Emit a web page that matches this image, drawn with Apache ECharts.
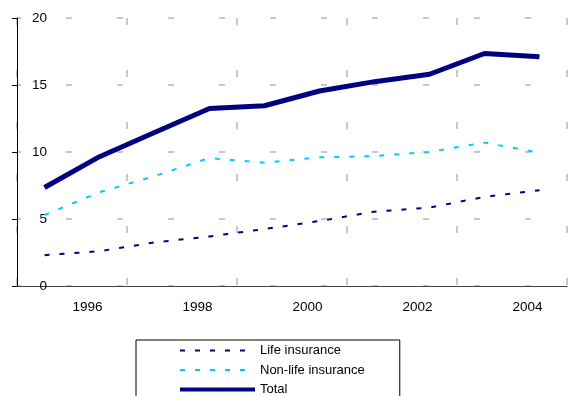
<!DOCTYPE html>
<html>
<head>
<meta charset="utf-8">
<script src="https://cdn.jsdelivr.net/npm/echarts@6/dist/echarts.min.js"></script>
<style>
html, body { margin: 0; padding: 0; background: #fff; }
#main { width: 569px; height: 396px; }
</style>
</head>
<body>
<div id="main"></div>
<script>
var myChart = echarts.init(document.getElementById('main'));

// x axis years
var years = ['1995', '1996', '1997', '1998', '1999', '2000', '2001', '2002', '2003', '2004'];
// series values
var lifeData = [2.3, 2.6, 3.25, 3.7, 4.25, 4.85, 5.55, 5.85, 6.65, 7.15];
var nonLifeData = [5.3, 7.0, 8.2, 9.55, 9.2, 9.6, 9.7, 10.0, 10.7, 9.95];
var totalData = [7.35, 9.65, 11.45, 13.25, 13.45, 14.55, 15.25, 15.8, 17.35, 17.1];

var font = '"Liberation Sans", Arial, sans-serif';

var option = {
	backgroundColor: '#fff',
	animation: false,
	textStyle: { fontFamily: font },
	grid: {
		left: 17,
		right: 2,
		top: 18,
		bottom: 110
	},
	legend: {
		orient: 'vertical',
		left: 136,
		top: 340,
		height: 70,
		padding: [3, 35, 12, 42],
		itemGap: 4.5,
		itemWidth: 75,
		itemHeight: 14,
		itemStyle: { opacity: 0 },
		borderColor: '#000',
		borderWidth: 1,
		selectedMode: false,
		textStyle: { fontSize: 13, color: '#000', fontFamily: font, lineHeight: 15 },
		data: [
			'Life insurance',
			'Non-life insurance',
			{ name: 'Total', lineStyle: { width: 4 } }
		]
	},
	xAxis: {
		type: 'category',
		data: years,
		boundaryGap: true,
		axisLine: { lineStyle: { color: '#444', width: 1 } },
		axisTick: { interval: 1, length: 5, lineStyle: { color: '#444' } },
		axisLabel: {
			interval: function (idx) { return idx % 2 === 1; },
			color: '#000',
			fontSize: 13.5,
			margin: 14,
			padding: [0, 24, 0, 0],
			fontFamily: font
		},
		splitLine: {
			show: true,
			interval: 1,
			lineStyle: { color: '#c8c8c8', width: 2, type: [7, 45], dashOffset: 0 }
		}
	},
	yAxis: {
		type: 'value',
		min: 0,
		max: 20,
		interval: 5,
		axisLine: { show: true, lineStyle: { color: '#000', width: 1 } },
		axisTick: { show: true, length: 5, lineStyle: { color: '#000' } },
		axisLabel: {
			color: '#000',
			fontSize: 13.5,
			margin: -30,
			fontFamily: font
		},
		splitLine: {
			lineStyle: { color: '#c8c8c8', width: 2, type: [6, 45], dashOffset: 2 }
		}
	},
	series: [{
			name: 'Life insurance',
			type: 'line',
			data: lifeData,
			symbol: 'none',
			lineStyle: { color: '#000080', width: 2, type: [5, 10] },
			itemStyle: { color: '#000080' }
		},
		{
			name: 'Non-life insurance',
			type: 'line',
			data: nonLifeData,
			symbol: 'none',
			lineStyle: { color: '#00ccff', width: 2, type: [5, 10] },
			itemStyle: { color: '#00ccff' }
		},
		{
			name: 'Total',
			type: 'line',
			data: totalData,
			symbol: 'none',
			lineStyle: { color: '#000080', width: 5 },
			itemStyle: { color: '#000080' }
		}
	]
};

myChart.setOption(option);
</script>
</body>
</html>
